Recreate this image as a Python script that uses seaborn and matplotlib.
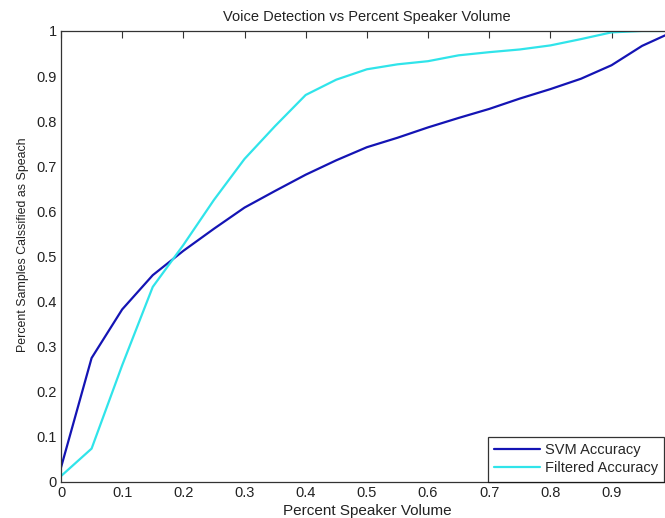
import pandas as pd
import matplotlib.pyplot as plt
import seaborn as sns

volume = [0.0, 0.05, 0.1, 0.15, 0.2, 0.25, 0.3, 0.35, 0.4, 0.45, 0.5,
          0.55, 0.6, 0.65, 0.7, 0.75, 0.8, 0.85, 0.9, 0.95, 1.0]
svm_acc = [0.031, 0.274, 0.382, 0.458, 0.512, 0.561, 0.608, 0.645, 0.681, 0.713, 0.742,
           0.763, 0.786, 0.807, 0.827, 0.850, 0.871, 0.894, 0.924, 0.967, 0.998]
filt_acc = [0.012, 0.073, 0.258, 0.432, 0.525, 0.625, 0.716, 0.789, 0.858, 0.892, 0.915,
            0.926, 0.933, 0.946, 0.953, 0.959, 0.968, 0.982, 0.997, 1.0, 1.0]
series = ["SVM Accuracy", "Filtered Accuracy"]

df = pd.DataFrame({
    "Percent Speaker Volume": volume * 2,
    "acc": svm_acc + filt_acc,
    "serie": [series[0]] * len(volume) + [series[1]] * len(volume),
})

sns.set_style("white")
plt.rcParams["font.family"] = ["Liberation Sans", "DejaVu Sans"]

fig = plt.figure(figsize=(6.65, 5.18), dpi=100)
# the original picture is cut off on the right, so the axes run past the edge
ax = fig.add_axes([61 / 665, 1 - 481.5 / 518, 611.7 / 665, 450.5 / 518])

sns.lineplot(data=df, x="Percent Speaker Volume", y="acc", hue="serie",
             palette=["#1414b4", "#30e4ea"], linewidth=1.6, ax=ax, legend=True)

ticks = [i / 10 for i in range(11)]
ax.set_xlim(0, 1)
ax.set_ylim(0, 1)
ax.set_xticks(ticks)
ax.set_yticks(ticks)
# the "1" on the x axis falls outside the cropped picture
ax.set_xticklabels(["0"] + [f"{t:g}" for t in ticks[1:10]] + [""])
ax.set_yticklabels(["0"] + [f"{t:g}" for t in ticks[1:10]] + ["1"])
ax.tick_params(direction="in", length=5, width=0.8, color="#333333",
               labelsize=10.5, labelcolor="#222222", top=True, right=True, pad=3)
for s in ax.spines.values():
    s.set_color("#333333")
    s.set_linewidth(0.9)

ax.set_title("Voice Detection vs Percent Speaker Volume", fontsize=10.5, pad=7, color="#222222")
ax.set_xlabel("Percent Speaker Volume", fontsize=11, labelpad=3, color="#222222")
ax.set_ylabel("Percent Samples Calssified as Speach", fontsize=8.9, color="#222222")
ax.yaxis.set_label_coords(-0.052, 0.525)

leg = ax.legend(loc="lower left", bbox_to_anchor=(427 / 611.7, 0), borderaxespad=0,
                fancybox=False, frameon=True, fontsize=10.5, handlelength=3.15,
                borderpad=0.42, labelspacing=0.32, handletextpad=0.35)
leg.get_frame().set_edgecolor("black")
leg.get_frame().set_linewidth(0.9)
for line in leg.get_lines():
    line.set_linewidth(1.6)

fig.savefig("out.png", dpi=100)
